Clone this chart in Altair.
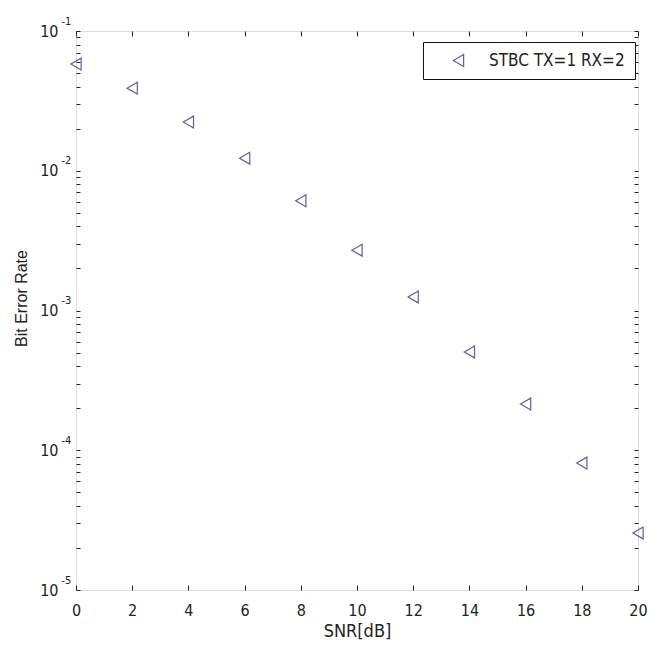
import altair as alt
import pandas as pd

snr_db = [0, 2, 4, 6, 8, 10, 12, 14, 16, 18, 20]
ber = [0.058, 0.039, 0.0223, 0.0123, 0.0061, 0.0027, 0.00125, 0.000505, 0.000214, 0.000081, 0.0000256]
series_name = "STBC TX=1 RX=2"

x_ticks = [0, 2, 4, 6, 8, 10, 12, 14, 16, 18, 20]
y_decades = [1e-5, 1e-4, 1e-3, 1e-2, 1e-1]
y_ticks = [float(f"{k}e{e}") for e in range(-5, -1) for k in range(1, 10)] + [1e-1]

df = pd.DataFrame({"snr": snr_db, "ber": ber, "series": series_name})

NARROW = "Liberation Sans Narrow, DejaVu Sans Condensed, Liberation Sans, Arial"
REG = "Liberation Sans, Arial"
MARK_COLOR = "#1a1a80"

xs = alt.Scale(domain=[0, 20], nice=False, zero=False)
ys = alt.Scale(type="log", domain=[1e-5, 1e-1], nice=False)

is_decade = "abs(log(datum.value)/LN10 - round(log(datum.value)/LN10)) < 1e-6"

base = alt.Chart(df)

main = base.mark_point(shape="triangle-left", filled=False, size=140, strokeWidth=1.2).encode(
    x=alt.X("snr:Q", scale=xs,
            axis=alt.Axis(orient="bottom", values=x_ticks, format="d", title="SNR[dB]",
                          offset=-5, tickSize=5, domain=False, grid=False,
                          labelFont=NARROW, labelFontSize=16, labelColor="#222",
                          labelPadding=12, labelFlush=False, tickColor="#222",
                          titleFont=NARROW, titleFontSize=18, titleFontWeight="normal",
                          titleColor="#222", titlePadding=4)),
    y=alt.Y("ber:Q", scale=ys,
            axis=alt.Axis(orient="left", values=y_ticks, labelExpr=f"{is_decade} ? '10' : ''",
                          title="Bit Error Rate", offset=-4, tickSize=4, domain=False, grid=False,
                          labelFont=NARROW, labelFontSize=16, labelColor="#222",
                          labelPadding=18, labelOverlap=False, labelFlush=False,
                          labelBaseline="middle", tickColor="#222",
                          titleFont=REG, titleFontSize=16, titleFontWeight="normal",
                          titleColor="#222", titlePadding=10, titleY=267)),
    color=alt.Color("series:N", scale=alt.Scale(range=[MARK_COLOR]),
                    legend=alt.Legend(title=None, orient="none", legendX=347, legendY=11,
                                      strokeColor="#111", fillColor="white", padding=10,
                                      symbolOffset=17, labelOffset=22,
                                      labelFont=NARROW, labelFontSize=17, labelColor="#222",
                                      symbolStrokeWidth=1.2, symbolSize=140,
                                      labelLimit=400)),
)

opp = base.mark_point(opacity=0).encode(
    x=alt.X("snr:Q", scale=xs,
            axis=alt.Axis(orient="top", values=x_ticks, labels=False, title=None,
                          offset=-5, tickSize=5, domain=False, grid=False, tickColor="#222")),
    y=alt.Y("ber:Q", scale=ys,
            axis=alt.Axis(orient="right", values=y_ticks, labels=False, title=None,
                          offset=-4, tickSize=4, domain=False, grid=False, tickColor="#222")),
)

exp_axis = base.mark_point(opacity=0).encode(
    x=alt.X("snr:Q", scale=xs, axis=None),
    y=alt.Y("ber:Q", scale=ys,
            axis=alt.Axis(orient="left", values=y_decades,
                          labelExpr="'' + round(log(datum.value)/LN10)",
                          title=None, offset=0, ticks=False, domain=False, grid=False,
                          labelFont=NARROW, labelFontSize=11, labelColor="#222",
                          labelAlign="left", labelPadding=15, labelOffset=-10,
                          labelOverlap=False, labelFlush=False)),
)

chart = alt.layer(main, opp, exp_axis).resolve_axis(x="independent", y="independent").properties(
    width=562, height=559,
    autosize=alt.AutoSizeParams(type="none"),
    padding={"left": 68, "top": 23, "right": 10, "bottom": 50},
).configure_view(stroke="#111", strokeWidth=1).configure(background="white")

chart.save("out.html", embed_options={"renderer": "svg", "actions": False})
